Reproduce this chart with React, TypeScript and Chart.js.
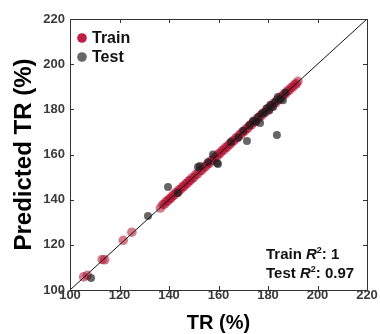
import React, { useEffect, useRef } from "react";
import { Chart, registerables } from "chart.js";

Chart.register(...registerables);

const FONT = "'Liberation Sans', Arial, Helvetica, sans-serif";

const axisMin = 100;
const axisMax = 220;
const tickStep = 20;

const trainActual = [
  105.5, 107, 113, 114, 121.5, 125, 136.5, 137.5, 138.2, 138.9, 139.5, 140.2, 140.8, 141.5,
  142.1, 142.8, 143.4, 144.1, 144.7, 145.4, 146, 146.7, 147.3, 148, 148.6, 149.3, 150, 150.8,
  151.6, 152.5, 153.3, 154, 154.8, 155.5, 156.3, 157, 157.8, 158.5, 159.3, 160, 160.7, 161.4,
  162.1, 162.8, 163.5, 164.2, 164.9, 165.6, 166.3, 167, 167.7, 168.4, 169.1, 169.8, 170.5,
  171.2, 171.9, 172.6, 173.3, 174, 174.7, 175.4, 176.1, 176.8, 177.5, 178.2, 178.9, 179.6,
  180.3, 181, 181.7, 182.4, 183.1, 183.8, 184.5, 185.2, 185.9, 186.6, 187.3, 188, 188.7,
  189.4, 190.1, 190.8, 191.5, 192.1,
];
const trainPred = [
  105.8, 106.5, 113.5, 113.4, 122, 125.6, 136.3, 137.8, 138, 139.3, 139.4, 140.5, 140.6, 141.8,
  142, 143.1, 143.2, 144.4, 144.5, 145.7, 145.8, 147, 147.1, 148.3, 148.4, 149.6, 149.8, 151.1,
  151.4, 152.8, 153.1, 154.3, 154.6, 155.8, 156.1, 157.3, 157.6, 158.8, 159.1, 160.3, 160.5,
  161.7, 161.9, 163.1, 163.3, 164.5, 164.7, 165.9, 166.1, 167.3, 167.5, 168.7, 168.9, 170.1,
  170.3, 171.5, 171.7, 172.9, 173.1, 174.3, 174.5, 175.7, 175.9, 177.1, 177.3, 178.5, 178.7,
  179.9, 180.1, 181.3, 181.5, 182.7, 182.9, 184.1, 184.3, 185.5, 185.7, 186.9, 187.1, 188.3,
  188.5, 189.7, 189.9, 191.1, 191.3, 192.4,
];

const testActual = [
  108.5, 131.5, 139.6, 143.6, 151.7, 152.5, 155.8, 157.8, 159.4, 159.8, 165, 168, 170,
  171.5, 172.5, 174, 175, 176, 176.8, 177.5, 178.5, 179.5, 180.5, 181, 182, 183, 183.6,
  184, 185, 186, 187,
];
const testPred = [
  105.3, 132.8, 145.6, 143, 154.5, 154.9, 156.7, 160, 156.2, 155.8, 165.5, 167.5, 170.5,
  166, 173, 175, 174.5, 176.6, 174, 178, 178.5, 180.5, 179.5, 182, 181, 183.5, 168.6,
  185.5, 184.5, 184, 187.5,
];

const legendLabels = ["Train", "Test"];
const trainR2 = "1";
const testR2 = "0.97";

const TRAIN_COLOR = "rgba(175, 15, 45, 0.55)";
const TEST_COLOR = "rgba(30, 30, 30, 0.68)";
const TRAIN_LEGEND = "#bd1e43";
const TEST_LEGEND = "#666666";

const framePlugin = {
  id: "frameAndText",
  afterDraw(chart: any) {
    const { ctx, chartArea, scales } = chart;
    const { left, right, top, bottom } = chartArea;
    ctx.save();
    ctx.strokeStyle = "#333";
    ctx.lineWidth = 1;
    ctx.strokeRect(Math.round(left) + 0.5, Math.round(top) + 0.5, Math.round(right - left), Math.round(bottom - top));
    const tl = 4;
    ctx.beginPath();
    for (let v = axisMin + tickStep; v < axisMax; v += tickStep) {
      const px = Math.round(scales.x.getPixelForValue(v)) + 0.5;
      ctx.moveTo(px, top);
      ctx.lineTo(px, top + tl);
      ctx.moveTo(px, bottom);
      ctx.lineTo(px, bottom - tl);
      const py = Math.round(scales.y.getPixelForValue(v)) + 0.5;
      ctx.moveTo(left, py);
      ctx.lineTo(left + tl, py);
      ctx.moveTo(right, py);
      ctx.lineTo(right - tl, py);
    }
    ctx.stroke();

    const items = [
      { label: legendLabels[0], color: TRAIN_LEGEND, y: top + 19 },
      { label: legendLabels[1], color: TEST_LEGEND, y: top + 38 },
    ];
    ctx.textBaseline = "middle";
    ctx.textAlign = "left";
    for (const it of items) {
      ctx.fillStyle = it.color;
      ctx.beginPath();
      ctx.arc(left + 12, it.y, 4.8, 0, Math.PI * 2);
      ctx.fill();
      ctx.fillStyle = "#111";
      ctx.font = `bold 16px ${FONT}`;
      ctx.fillText(it.label, left + 22, it.y + 0.5);
    }

    ctx.textBaseline = "alphabetic";
    const drawRich = (x: number, y: number, parts: { t: string; f: string; dy?: number }[]) => {
      for (const p of parts) {
        ctx.font = p.f;
        ctx.fillText(p.t, x, y + (p.dy || 0));
        x += ctx.measureText(p.t).width;
      }
    };
    ctx.fillStyle = "#111";
    const big = `bold 15px ${FONT}`;
    const it = `italic bold 15px ${FONT}`;
    const sup = `bold 9px ${FONT}`;
    drawRich(266, 259, [
      { t: "Train ", f: big },
      { t: "R", f: it },
      { t: "2", f: sup, dy: -6 },
      { t: ": " + trainR2, f: big },
    ]);
    drawRich(266, 278, [
      { t: "Test ", f: big },
      { t: "R", f: it },
      { t: "2", f: sup, dy: -6 },
      { t: ": " + testR2, f: big },
    ]);
    ctx.restore();
  },
};

export default function App() {
  const ref = useRef<HTMLCanvasElement | null>(null);
  useEffect(() => {
    if (!ref.current) return;
    const chart = new Chart(ref.current, {
      type: "scatter",
      data: {
        datasets: [
          {
            label: "diag",
            type: "line",
            data: [
              { x: axisMin, y: axisMin },
              { x: axisMax, y: axisMax },
            ],
            borderColor: "#111",
            borderWidth: 1,
            pointRadius: 0,
            showLine: true,
            fill: false,
          } as any,
          {
            label: legendLabels[1],
            data: testActual.map((x, i) => ({ x, y: testPred[i] })),
            backgroundColor: TEST_COLOR,
            borderWidth: 0,
            pointRadius: 4,
          },
          {
            label: legendLabels[0],
            data: trainActual.map((x, i) => ({ x, y: trainPred[i] })),
            backgroundColor: TRAIN_COLOR,
            borderWidth: 0,
            pointRadius: 4.8,
          },
        ],
      },
      options: {
        animation: false,
        responsive: false,
        layout: { padding: { top: 19, right: 13, left: 0, bottom: 0 } },
        plugins: { legend: { display: false }, tooltip: { enabled: false } },
        scales: {
          x: {
            type: "linear",
            min: axisMin,
            max: axisMax,
            ticks: {
              stepSize: tickStep,
              color: "#3a3a3a",
              font: { family: FONT, size: 13, weight: "bold", lineHeight: 0.8 },
              padding: 0,
            },
            grid: { display: false, drawTicks: false },
            border: { display: false },
            title: {
              display: true,
              text: "TR (%)",
              color: "#000",
              font: { family: FONT, size: 20, weight: "bold", lineHeight: 1 },
              padding: { top: 0, bottom: 1 },
            },
            afterFit: (s: any) => {
              s.height = 44;
            },
          },
          y: {
            type: "linear",
            min: axisMin,
            max: axisMax,
            ticks: {
              stepSize: tickStep,
              color: "#3a3a3a",
              font: { family: FONT, size: 13, weight: "bold" },
              padding: 5,
            },
            grid: { display: false, drawTicks: false },
            border: { display: false },
            title: {
              display: true,
              text: "Predicted TR (%)",
              color: "#000",
              font: { family: FONT, size: 24, weight: "bold", lineHeight: 1 },
              padding: { top: 12, bottom: 0 },
            },
            afterFit: (s: any) => {
              s.width = 70;
            },
          },
        },
      },
      plugins: [framePlugin],
    });
    return () => chart.destroy();
  }, []);
  return (
    <div style={{ position: "absolute", left: 0, top: 0, width: 380, height: 334, background: "#fff" }}>
      <canvas ref={ref} width={380} height={334} />
    </div>
  );
}
